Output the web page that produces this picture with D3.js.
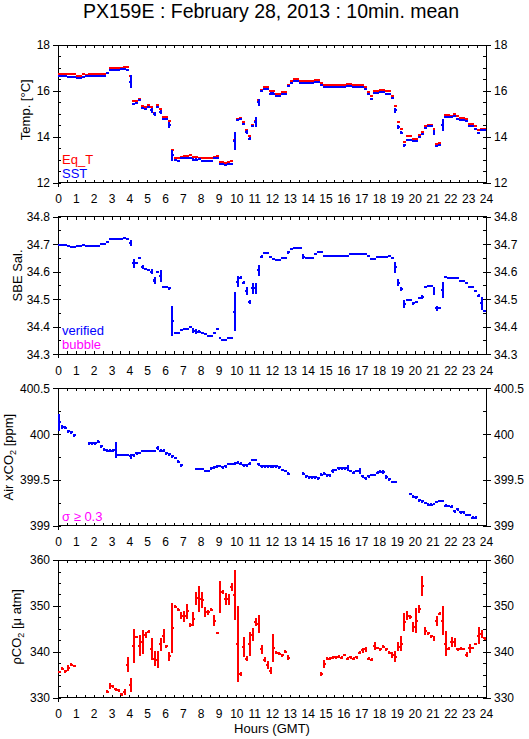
<!DOCTYPE html>
<meta charset="utf-8">
<style>
body { margin: 0; background: #fff; }
svg { font-family: "Liberation Sans", Arial, sans-serif; }
.axis text { font-size: 12px; fill: #000; }
.axis path, .axis line { stroke: #000; }
</style>
<body>
<script src="https://cdn.jsdelivr.net/npm/d3@7"></script>
<script>

// 10 minute bins, 6 per hour, one hour per row
var eqT = [
  16.75,16.75,16.75,16.72,16.72,16.72,
  16.66,16.66,16.72,16.70,16.73,16.73,
  16.73,16.73,16.74,16.74,16.80,17.00,
  17.00,17.00,17.00,17.00,17.04,17.02,
  16.63,15.57,15.55,15.65,15.35,15.30,
  15.38,15.30,15.05,15.38,15.20,14.87,
  14.87,14.70,13.40,13.08,13.05,13.12,
  13.16,13.16,13.20,13.12,13.12,13.08,
  13.06,13.06,13.06,13.05,13.12,13.15,
  12.90,12.90,12.86,12.88,12.92,13.87,
  14.75,14.82,14.62,14.30,14.03,14.52,
  14.70,15.58,16.05,16.17,16.17,15.98,
  15.98,15.88,15.88,15.94,15.94,16.27,
  16.42,16.52,16.52,16.43,16.43,16.43,
  16.43,16.43,16.46,16.46,16.35,16.24,
  16.24,16.24,16.24,16.24,16.24,16.24,
  16.24,16.28,16.28,16.24,16.24,16.24,
  16.24,16.17,15.95,15.76,15.99,15.99,
  16.02,16.02,15.98,15.98,15.78,15.33,
  14.63,14.33,13.77,14.02,14.02,13.90,
  13.90,14.06,14.20,14.47,14.53,14.53,
  14.34,13.70,13.73,14.53,14.93,14.93,
  14.90,14.99,14.90,14.82,14.82,14.75,
  14.57,14.57,14.45,14.28,14.34,14.34
];
var eqTSd = [
  .01,.01,.01,.01,.01,.01,  .01,.01,.01,.01,.01,.01,
  .01,.01,.01,.01,.03,.01,  .01,.01,.01,.01,.01,.01,
  .08,.01,.01,.03,.01,.01,  .01,.02,.02,.01,.02,.01,
  .01,.02,.04,.01,.01,.01,  .01,.01,.01,.01,.01,.01,
  .01,.01,.01,.01,.02,.02,  .01,.01,.01,.01,.01,.05,
  .01,.01,.02,.02,.02,.01,  .03,.02,.01,.01,.01,.01,
  .01,.01,.01,.01,.01,.02,  .01,.01,.01,.01,.01,.01,
  .01,.01,.01,.01,.01,.01,  .01,.01,.01,.01,.01,.01,
  .01,.01,.01,.01,.01,.01,  .01,.01,.02,.02,.01,.01,
  .01,.01,.01,.01,.02,.04,  .03,.02,.02,.01,.01,.01,
  .01,.01,.01,.01,.01,.01,  .03,.01,.01,.02,.01,.01,
  .01,.01,.01,.01,.01,.01,  .01,.01,.01,.01,.01,.01
];
var sst = [
  16.65,16.65,16.65,16.60,16.60,16.60,
  16.56,16.56,16.62,16.64,16.64,16.64,
  16.65,16.65,16.66,16.66,16.78,16.93,
  16.93,16.93,16.93,16.95,16.95,16.93,
  16.40,15.42,15.45,15.60,15.26,15.22,
  15.28,15.15,14.98,15.30,15.08,14.77,
  14.77,14.50,13.20,13.00,12.95,13.05,
  13.07,13.07,13.07,13.00,13.00,13.02,
  12.95,12.95,12.95,12.95,13.05,13.08,
  12.80,12.80,12.75,12.80,12.80,13.80,
  14.72,14.75,14.55,14.20,13.92,14.48,
  14.64,15.50,16.00,16.10,16.10,15.88,
  15.88,15.76,15.76,15.88,15.88,16.20,
  16.35,16.45,16.45,16.36,16.36,16.36,
  16.36,16.36,16.40,16.40,16.27,16.15,
  16.15,16.15,16.15,16.15,16.15,16.15,
  16.15,16.20,16.20,16.15,16.15,16.15,
  16.15,16.10,15.85,15.66,15.90,15.90,
  15.93,15.93,15.88,15.88,15.68,15.15,
  14.43,14.18,13.63,13.87,13.87,13.83,
  13.83,13.99,14.13,14.40,14.45,14.45,
  14.18,13.60,13.65,14.50,14.86,14.86,
  14.84,14.92,14.79,14.72,14.72,14.69,
  14.47,14.47,14.35,14.16,14.28,14.28
];
var sstSd = [
  .01,.01,.01,.01,.01,.01,  .01,.04,.01,.01,.01,.01,
  .01,.01,.01,.01,.06,.01,  .01,.01,.01,.04,.01,.01,
  .28,.04,.01,.05,.05,.04,  .01,.10,.08,.01,.10,.01,
  .04,.12,.24,.04,.04,.01,  .01,.03,.01,.06,.06,.01,
  .01,.01,.01,.01,.04,.05,  .01,.01,.04,.01,.01,.40,
  .04,.04,.04,.08,.07,.04,  .22,.15,.04,.02,.02,.05,
  .05,.02,.02,.02,.04,.04,  .04,.02,.02,.01,.01,.01,
  .01,.01,.02,.03,.04,.01,  .01,.01,.01,.01,.01,.01,
  .01,.01,.01,.01,.01,.01,  .01,.02,.05,.04,.01,.01,
  .01,.01,.01,.01,.04,.12,  .10,.08,.06,.01,.01,.04,
  .04,.04,.05,.03,.01,.01,  .10,.04,.04,.25,.01,.01,
  .01,.01,.01,.01,.01,.01,  .01,.01,.02,.04,.02,.01
];
var salinity = [
  34.697,34.697,34.697,34.695,34.690,34.690,
  34.692,34.692,34.697,34.695,34.694,34.695,
  34.695,34.695,34.702,34.700,34.707,34.720,
  34.720,34.720,34.720,34.720,34.722,34.720,
  34.705,34.630,34.630,34.650,34.618,34.608,
  34.607,34.600,34.568,34.600,34.584,34.545,
  34.545,34.540,34.420,34.378,34.378,34.387,
  34.390,34.390,34.400,34.386,34.382,34.382,
  34.376,34.372,34.365,34.365,34.378,34.392,
  34.358,34.353,34.353,34.358,34.360,34.455,
  34.564,34.578,34.560,34.530,34.490,34.540,
  34.540,34.606,34.655,34.667,34.667,34.655,
  34.646,34.643,34.643,34.648,34.648,34.670,
  34.682,34.688,34.688,34.688,34.655,34.650,
  34.650,34.650,34.664,34.670,34.670,34.657,
  34.657,34.657,34.657,34.657,34.657,34.657,
  34.657,34.657,34.663,34.663,34.663,34.663,
  34.663,34.663,34.657,34.645,34.645,34.653,
  34.653,34.653,34.653,34.656,34.648,34.616,
  34.560,34.537,34.483,34.496,34.496,34.485,
  34.489,34.503,34.509,34.543,34.549,34.549,
  34.531,34.467,34.469,34.533,34.582,34.576,
  34.576,34.578,34.578,34.566,34.566,34.558,
  34.543,34.543,34.531,34.513,34.485,34.457
];
var salinitySd = [
  .001,.001,.001,.001,.001,.001,  .001,.001,.002,.001,.001,.001,
  .001,.001,.002,.001,.004,.001,  .001,.001,.001,.001,.001,.001,
  .010,.015,.003,.005,.007,.002,  .002,.010,.014,.003,.022,.002,
  .002,.006,.055,.002,.002,.002,  .002,.003,.002,.008,.009,.005,
  .002,.002,.002,.002,.003,.001,  .002,.002,.002,.002,.002,.070,
  .020,.006,.005,.015,.006,.020,  .020,.020,.005,.002,.002,.002,
  .005,.004,.002,.002,.002,.004,  .002,.001,.001,.001,.008,.002,
  .002,.002,.005,.002,.001,.001,  .001,.001,.001,.001,.001,.001,
  .001,.001,.001,.001,.001,.001,  .001,.001,.003,.001,.001,.001,
  .001,.001,.001,.002,.002,.020,  .012,.006,.014,.001,.001,.005,
  .004,.003,.008,.002,.001,.001,  .014,.010,.003,.030,.002,.002,
  .001,.002,.001,.001,.001,.001,  .001,.001,.001,.006,.024,.003
];
var airXco2 = [
  400.13,400.08,400.07,400.03,400.02,399.99,
  null,null,null,null,399.90,399.90,
  399.90,399.92,399.87,399.83,399.82,399.82,
  399.82,399.83,399.77,399.77,399.77,399.77,
  399.76,399.77,399.79,399.80,399.82,399.82,
  399.82,399.82,399.82,399.85,399.82,399.82,
  399.79,399.78,399.76,399.74,399.70,399.66,
  null,null,null,null,399.62,399.62,
  399.62,399.60,399.60,399.63,399.64,399.65,
  399.65,399.64,399.65,399.67,399.67,399.68,
  399.69,399.68,399.66,399.66,399.68,399.72,
  399.72,399.67,399.65,399.65,399.65,399.65,
  399.65,399.65,399.64,399.61,399.60,399.57,
  null,null,null,null,399.57,399.54,
  399.53,399.53,399.53,399.52,399.56,399.57,
  399.55,399.55,399.60,399.61,399.63,399.63,
  399.63,399.63,399.60,399.58,399.60,399.60,
  399.54,399.52,399.54,399.56,399.56,399.58,
  399.59,399.59,399.53,399.51,399.48,399.48,
  null,null,null,null,399.35,399.32,
  399.31,399.28,399.27,399.25,399.23,399.23,
  399.24,399.26,399.27,399.27,399.22,399.22,
  399.21,399.16,399.18,399.15,399.15,399.12,
  399.12,399.09,399.09,null,null,null
];
var airXco2Sd = [
  .090,.020,.015,.015,.015,.015,  0,0,0,0,.015,.015,
  .015,.015,.015,.015,.015,.015,  .015,.085,.010,.010,.010,.010,
  .025,.015,.015,.010,.010,.010,  .010,.010,.010,.025,.015,.015,
  .015,.015,.015,.015,.015,.015,  0,0,0,0,.010,.010,
  .015,.010,.010,.015,.015,.015,  .010,.015,.015,.010,.010,.015,
  .015,.015,.015,.015,.015,.015,  .015,.015,.015,.015,.015,.015,
  .015,.015,.015,.015,.015,.015,  0,0,0,0,.020,.020,
  .015,.015,.015,.015,.015,.015,  .020,.020,.020,.015,.015,.015,
  .015,.035,.015,.015,.015,.030,  .015,.015,.015,.010,.010,.015,
  .015,.020,.020,.015,.015,.015,  0,0,0,0,.010,.015,
  .015,.015,.015,.015,.015,.015,  .015,.010,.010,.010,.015,.010,
  .015,.015,.015,.015,.015,.015,  .015,.020,.015,0,0,0
];
var pco2 = [
  335.6,336.3,335.7,336.5,337.2,337.0,
  null,null,null,null,null,null,
  null,null,null,null,331.3,332.5,
  332.5,331.8,331.6,330.7,331.2,337.2,
  332.7,341.3,343.2,341.3,342.1,343.7,
  344.4,340.7,338.5,338.3,341.6,343.5,
  341.2,339.0,345.2,349.8,349.2,347.9,
  347.7,348.8,345.9,347.2,351.7,351.5,
  351.3,348.6,348.6,349.2,346.8,344.1,
  352.0,353.0,351.5,351.5,354.1,352.4,
  341.7,335.2,341.1,338.5,341.7,343.7,
  346.5,346.1,340.5,338.3,337.1,335.9,
  340.8,339.8,339.6,339.2,340.0,338.7,
  null,null,null,null,null,null,
  null,null,null,null,335.2,337.4,
  338.5,338.5,338.7,338.8,338.9,338.7,
  339.3,338.5,338.8,338.5,338.8,339.8,
  340.3,340.5,338.5,338.3,341.2,340.8,
  340.5,341.1,340.5,339.8,339.3,338.9,
  341.1,341.8,346.5,347.9,347.6,345.4,
  346.8,349.4,354.4,344.5,344.0,343.4,
  342.9,346.8,348.3,346.8,341.8,340.7,
  342.1,342.1,340.5,340.7,340.6,339.4,
  340.8,340.8,341.7,343.5,343.9,342.9
];
var pco2Sd = [
  .3,.3,.3,.6,.3,.2,   0,0,0,0,0,0,
  0,0,0,0,.4,.6,       .3,.3,.3,.4,.6,1.6,
  1.5,3.7,.3,2.3,2.6,.6,  .3,2.4,1.7,1.8,1.4,1.5,
  .3,1.0,5.5,.3,.3,.7,    1.2,1.6,.4,1.5,1.4,2.9,
  1.7,1.1,.5,.3,1.2,.3,   3.5,.4,1.4,1.2,.8,5.5,
  8.3,.4,2.2,.5,2.7,1.4,  .9,1.9,1.0,.6,.8,.7,
  3.0,.3,.3,.3,.3,.6,     0,0,0,0,0,0,
  0,0,0,0,.4,.9,          .3,.3,.3,.3,.3,.3,
  .3,.3,.3,.3,.3,.3,      .5,.6,.3,.3,.9,.3,
  .3,.3,.3,.3,.6,1.2,     1.0,1.7,1.9,1.0,.5,1.1,
  2.7,.9,2.2,.9,.3,.3,    .6,1.1,.3,3.1,2.8,.3,
  1.1,1.0,.3,.3,.3,.6,    1.0,.3,.3,1.8,.9,.3
];

// tick labels
var hourTicks = [0,1,2,3,4,5,6,7,8,9,10,11,12,13,14,15,16,17,18,19,20,21,22,23,24];
var tempTicks = [12, 14, 16, 18];
var salTicks = [34.3, 34.4, 34.5, 34.6, 34.7, 34.8];
var xco2Ticks = [399, 399.5, 400, 400.5];
var pco2Ticks = [330, 340, 350, 360];

// page layout
var left = 58, width = 428, height = 137.5, top0 = 45, step = 171.7;

var svg = d3.select("body").append("svg")
    .attr("width", 529)
    .attr("height", 739);

svg.append("text")
    .attr("x", 271).attr("y", 17.5)
    .attr("text-anchor", "middle")
    .style("font-size", "19.5px")
    .text("PX159E : February 28, 2013 : 10min. mean");

var x = d3.scaleLinear().domain([0, 24]).range([0, width]);

var panels = [
  { domain: [12, 18], ticks: tempTicks, minor: 0.5, fmt: d3.format("d"),
    label: ["Temp. [°C]"], labelX: -28, labelY: -4,
    series: [{v: eqT, s: eqTSd, color: "#ff0000"}, {v: sst, s: sstSd, color: "#0000ff"}],
    legend: [["Eq_T", "#ff0000"], ["SST", "#0000ff"]] },
  { domain: [34.3, 34.8], ticks: salTicks, minor: 0.05, fmt: d3.format(".1f"),
    label: ["SBE Sal."], labelX: -36, labelY: -10,
    series: [{v: salinity, s: salinitySd, color: "#0000ff"}],
    legend: [["verified", "#0000ff"], ["bubble", "#ff00ff"]] },
  { domain: [399, 400.5], ticks: xco2Ticks, minor: 0.25, fmt: d3.format("~f"),
    label: ["Air xCO", "2", " [ppm]"], labelX: -45, labelY: 0,
    series: [{v: airXco2, s: airXco2Sd, color: "#0000ff"}],
    legend: [["σ ≥ 0.3", "#ff00ff"]] },
  { domain: [330, 360], ticks: pco2Ticks, minor: 2.5, fmt: d3.format("d"),
    label: ["ρCO", "2", " [μ atm]"], labelX: -37, labelY: -2,
    series: [{v: pco2, s: pco2Sd, color: "#ff0000"}],
    legend: [] }
];

panels.forEach(function(p, i) {
  var g = svg.append("g")
      .attr("transform", "translate(" + left + "," + (top0 + i * step) + ")");
  var y = d3.scaleLinear().domain(p.domain).range([height, 0]);
  var minorTicks = d3.range(p.domain[0], p.domain[1] + p.minor / 2, p.minor);
  var halfHours = d3.range(0, 24.01, 0.5);

  // frame
  g.append("rect")
      .attr("width", width).attr("height", height)
      .attr("fill", "none").attr("stroke", "#000")
      .attr("shape-rendering", "crispEdges");
  g.append("line")
      .attr("x1", 0).attr("x2", 0).attr("y1", height).attr("y2", height + 4)
      .attr("stroke", "#000").attr("shape-rendering", "crispEdges");

  // inner ticks every half hour, top and bottom
  g.append("g").attr("class", "axis")
      .attr("transform", "translate(0," + height + ")")
      .call(d3.axisBottom(x).tickValues(halfHours).tickSize(-3).tickFormat(""))
      .call(function(a) { a.select(".domain").remove(); });
  g.append("g").attr("class", "axis")
      .call(d3.axisTop(x).tickValues(halfHours).tickSize(-3).tickFormat(""))
      .call(function(a) { a.select(".domain").remove(); });
  // hour labels
  g.append("g").attr("class", "axis")
      .attr("transform", "translate(0," + height + ")")
      .call(d3.axisBottom(x).tickValues(hourTicks).tickSize(0).tickPadding(12))
      .call(function(a) { a.select(".domain").remove(); });

  // y axes: labelled ticks outside, minor ticks inside
  g.append("g").attr("class", "axis")
      .call(d3.axisLeft(y).tickValues(p.ticks).tickSize(5).tickFormat(p.fmt))
      .call(function(a) { a.select(".domain").remove(); });
  g.append("g").attr("class", "axis")
      .attr("transform", "translate(" + width + ",0)")
      .call(d3.axisRight(y).tickValues(p.ticks).tickSize(5).tickFormat(p.fmt))
      .call(function(a) { a.select(".domain").remove(); });
  g.append("g").attr("class", "axis")
      .call(d3.axisLeft(y).tickValues(minorTicks).tickSize(-3).tickFormat(""))
      .call(function(a) { a.select(".domain").remove(); });
  g.append("g").attr("class", "axis")
      .attr("transform", "translate(" + width + ",0)")
      .call(d3.axisRight(y).tickValues(minorTicks).tickSize(-3).tickFormat(""))
      .call(function(a) { a.select(".domain").remove(); });
  g.selectAll(".axis line").attr("shape-rendering", "crispEdges");

  // axis title
  var t = g.append("text")
      .attr("transform", "translate(" + p.labelX + "," + (height / 2 + p.labelY) + ") rotate(-90)")
      .attr("text-anchor", "middle")
      .style("font-size", "13px");
  t.append("tspan").text(p.label[0]);
  if (p.label.length > 1) {
    t.append("tspan").attr("dy", 3).style("font-size", "9px").text(p.label[1]);
    t.append("tspan").attr("dy", -3).text(p.label[2]);
  }

  // 10 min means: bar across the bin, vertical line for the spread
  p.series.forEach(function(s) {
    var pts = s.v.map(function(v, k) { return {t: k / 6, v: v, s: s.s[k]}; })
        .filter(function(d) { return d.v != null; });
    var marks = g.append("g")
        .attr("stroke", s.color)
        .attr("stroke-width", 2)
        .attr("shape-rendering", "crispEdges");
    marks.selectAll(".bin").data(pts).enter().append("line")
        .attr("class", "bin")
        .attr("x1", function(d) { return x(d.t); })
        .attr("x2", function(d) { return x(d.t + 1 / 6); })
        .attr("y1", function(d) { return y(d.v); })
        .attr("y2", function(d) { return y(d.v); });
    marks.selectAll(".err").data(pts.filter(function(d) { return d.s > 0; }))
        .enter().append("line")
        .attr("class", "err")
        .attr("x1", function(d) { return x(d.t + 1 / 12); })
        .attr("x2", function(d) { return x(d.t + 1 / 12); })
        .attr("y1", function(d) { return y(d.v - d.s); })
        .attr("y2", function(d) { return y(d.v + d.s); });
  });

  // legend, lower left
  p.legend.forEach(function(l, k) {
    g.append("text")
        .attr("x", 4)
        .attr("y", height - 5 - (p.legend.length - 1 - k) * 14)
        .attr("fill", l[1])
        .style("font-size", "13px")
        .text(l[0]);
  });
});

svg.append("text")
    .attr("x", 272).attr("y", 733)
    .attr("text-anchor", "middle")
    .style("font-size", "13px")
    .text("Hours (GMT)");

</script>
</body>
